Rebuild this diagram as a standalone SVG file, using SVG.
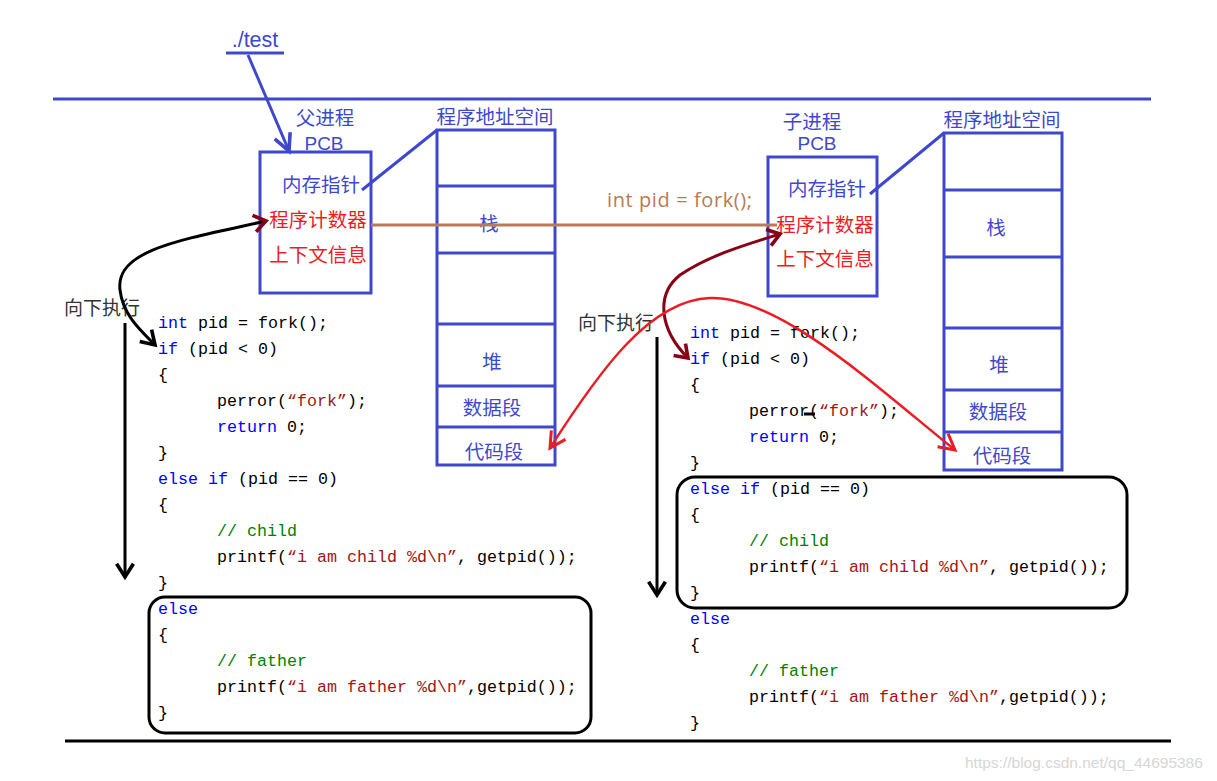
<svg xmlns="http://www.w3.org/2000/svg" width="1217" height="781" viewBox="0 0 1217 781">
<style>
.bl{stroke:#3f48cc;stroke-width:3;fill:none}
.blk{stroke:#000;stroke-width:3;fill:none}
.cn{font-family:"Noto Sans CJK SC","Microsoft YaHei",sans-serif;font-size:19.5px;text-anchor:middle}
.lat{font-family:"Liberation Sans",Arial,sans-serif;font-size:19px;text-anchor:middle}
.b{fill:#3f48cc}
.r{fill:#ed1c24}
.code{font-family:"Liberation Mono","Courier New",monospace;font-size:16.67px;fill:#000}
.kw{fill:#0000ff}
.str{fill:#a31515}
.cm{fill:#008000}
.exec{font-family:"Noto Sans CJK SC",serif;font-size:19px;fill:#333}
</style>
<defs>
<marker id="ahB" markerUnits="userSpaceOnUse" markerWidth="24" markerHeight="24" viewBox="-14 -10 18 20" refX="0" refY="0" orient="auto-start-reverse"><path d="M-11,-7 L0,0 L-11,7" fill="none" stroke="#000" stroke-width="3"/></marker>
<marker id="ahM" markerUnits="userSpaceOnUse" markerWidth="24" markerHeight="24" viewBox="-14 -10 18 20" refX="0" refY="0" orient="auto-start-reverse"><path d="M-10,-7 L0,0 L-10,7" fill="none" stroke="#880015" stroke-width="3"/></marker>
<marker id="ahR" markerUnits="userSpaceOnUse" markerWidth="24" markerHeight="24" viewBox="-14 -10 18 20" refX="0" refY="0" orient="auto-start-reverse"><path d="M-13,-7 L0,0 L-13,7" fill="none" stroke="#ed1c24" stroke-width="2.5"/></marker>
<marker id="ahBl" markerUnits="userSpaceOnUse" markerWidth="24" markerHeight="24" viewBox="-14 -10 18 20" refX="0" refY="0" orient="auto"><path d="M-14,-7 L0,0 L-14,7" fill="none" stroke="#3f48cc" stroke-width="3"/></marker>
</defs>
<rect width="1217" height="781" fill="#fff"/>

<g id="top-line"><line x1="53" y1="99" x2="1151" y2="99" class="bl"/></g>
<g id="bottom-line"><line x1="65" y1="741" x2="1171" y2="741" class="blk"/></g>

<g id="test">
<text x="255" y="47" class="lat b" style="font-size:21.5px">./test</text>
<line x1="226" y1="53" x2="284" y2="53" class="bl"/>
</g>

<g id="parent-pcb">
<text x="325" y="125" class="cn b">父进程</text>
<text x="324" y="150" class="lat b">PCB</text>
<rect x="260" y="152" width="111" height="141" class="bl"/>
<text x="321" y="192" class="cn b">内存指针</text>
<text x="318" y="227" class="cn r">程序计数器</text>
<text x="318" y="262" class="cn r">上下文信息</text>
</g>

<g id="parent-addr">
<text x="495" y="124" class="cn b">程序地址空间</text>
<rect x="437" y="130" width="118" height="335" class="bl"/>
<line x1="437" y1="186" x2="555" y2="186" class="bl"/>
<line x1="437" y1="253" x2="555" y2="253" class="bl"/>
<line x1="437" y1="324" x2="555" y2="324" class="bl"/>
<line x1="437" y1="386" x2="555" y2="386" class="bl"/>
<line x1="437" y1="427" x2="555" y2="427" class="bl"/>
<text x="489" y="231" class="cn b">栈</text>
<text x="492" y="369" class="cn b">堆</text>
<text x="492" y="415" class="cn b">数据段</text>
<text x="494" y="459" class="cn b">代码段</text>
</g>

<g id="child-pcb">
<text x="812" y="129" class="cn b">子进程</text>
<text x="817" y="150" class="lat b">PCB</text>
<rect x="768" y="157" width="109" height="139" class="bl"/>
<text x="827" y="196" class="cn b">内存指针</text>
<text x="825" y="232" class="cn r">程序计数器</text>
<text x="825" y="266" class="cn r">上下文信息</text>
</g>

<g id="child-addr">
<text x="1002" y="127" class="cn b">程序地址空间</text>
<rect x="944" y="133" width="118" height="337" class="bl"/>
<line x1="944" y1="190" x2="1062" y2="190" class="bl"/>
<line x1="944" y1="257" x2="1062" y2="257" class="bl"/>
<line x1="944" y1="328" x2="1062" y2="328" class="bl"/>
<line x1="944" y1="390" x2="1062" y2="390" class="bl"/>
<line x1="944" y1="432" x2="1062" y2="432" class="bl"/>
<text x="996" y="235" class="cn b">栈</text>
<text x="999" y="372" class="cn b">堆</text>
<text x="998" y="419" class="cn b">数据段</text>
<text x="1002" y="463" class="cn b">代码段</text>
</g>

<g id="fork-label">
<text x="607" y="207" font-family="'Open Sans','Liberation Sans',sans-serif" font-size="20" fill="#b97a57" textLength="145">int pid = fork();</text>
</g>

<g id="exec-left"><text x="64" y="315" class="exec">向下执行</text></g>
<g id="exec-right"><text x="578" y="330" class="exec">向下执行</text></g>

<g id="code-left" class="code">
<text x="158" y="328"><tspan class="kw">int</tspan> pid = fork();</text>
<text x="158" y="354"><tspan class="kw">if</tspan> (pid &lt; 0)</text>
<text x="158" y="380">{</text>
<text x="217" y="406">perror(<tspan class="str">“fork”</tspan>);</text>
<text x="217" y="432"><tspan class="kw">return</tspan> 0;</text>
<text x="158" y="458">}</text>
<text x="158" y="484"><tspan class="kw">else if</tspan> (pid == 0)</text>
<text x="158" y="510">{</text>
<text x="217" y="536" class="cm">// child</text>
<text x="217" y="562">printf(<tspan class="str">“i am child %d\n”</tspan>, getpid());</text>
<text x="158" y="588">}</text>
<text x="158" y="614" class="kw">else</text>
<text x="158" y="640">{</text>
<text x="217" y="666" class="cm">// father</text>
<text x="217" y="692">printf(<tspan class="str">“i am father %d\n”</tspan>,getpid());</text>
<text x="158" y="718">}</text>
<rect x="149" y="597" width="442" height="136" rx="16" class="blk"/>
</g>

<g id="code-right" class="code">
<text x="690" y="338"><tspan class="kw">int</tspan> pid = fork();</text>
<text x="690" y="364"><tspan class="kw">if</tspan> (pid &lt; 0)</text>
<text x="690" y="390">{</text>
<text x="749" y="416">perror(<tspan class="str">“fork”</tspan>);</text>
<text x="749" y="442"><tspan class="kw">return</tspan> 0;</text>
<text x="690" y="468">}</text>
<text x="690" y="494"><tspan class="kw">else if</tspan> (pid == 0)</text>
<text x="690" y="520">{</text>
<text x="749" y="546" class="cm">// child</text>
<text x="749" y="572">printf(<tspan class="str">“i am child %d\n”</tspan>, getpid());</text>
<text x="690" y="598">}</text>
<text x="690" y="624" class="kw">else</text>
<text x="690" y="650">{</text>
<text x="749" y="676" class="cm">// father</text>
<text x="749" y="702">printf(<tspan class="str">“i am father %d\n”</tspan>,getpid());</text>
<text x="690" y="728">}</text>
<line x1="804" y1="414" x2="815" y2="414" stroke="#000" stroke-width="3"/>
<rect x="677" y="477" width="450" height="131" rx="18" class="blk"/>
</g>

<g id="connectors">
<line x1="248" y1="55" x2="289" y2="151" class="bl" marker-end="url(#ahBl)"/>
<line x1="362" y1="190" x2="437" y2="130" class="bl"/>
<line x1="870" y1="194" x2="944" y2="133" class="bl"/>
<line x1="371" y1="225" x2="777" y2="225" stroke="#b97a57" stroke-width="3"/>
<line x1="125" y1="323" x2="125" y2="577" class="blk" marker-end="url(#ahB)"/>
<line x1="657" y1="337" x2="657" y2="595" class="blk" marker-end="url(#ahB)"/>
<path d="M155,345 C140,330 123,315 120,290 C115,250 180,240 266,221" class="blk" marker-start="url(#ahB)" marker-end="url(#ahM)"/>
<path d="M688,358 C660,330 655,295 680,275 C710,255 745,245 780,234" fill="none" stroke="#880015" stroke-width="3" marker-start="url(#ahM)" marker-end="url(#ahM)"/>
<path d="M550,448 C600,370 650,300 710,298 C780,296 880,390 955,450" fill="none" stroke="#ed1c24" stroke-width="2.5" marker-start="url(#ahR)" marker-end="url(#ahR)"/>
</g>

<g id="watermark"><text x="965" y="768" font-family="'Liberation Sans',Arial,sans-serif" font-size="15.5" fill="#d6d6d6">https://blog.csdn.net/qq_44695386</text></g>
</svg>
